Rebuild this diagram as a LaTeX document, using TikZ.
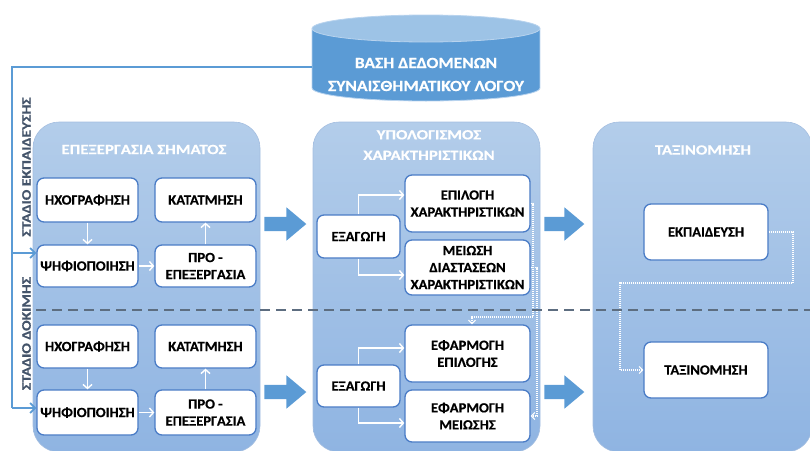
\documentclass[tikz,border=0pt]{standalone}
\usepackage{fontspec}
\setmainfont{Carlito}
\newfontfamily\boxfont{Carlito}[FakeStretch=1.04, BoldFeatures={FakeBold=0.5}]
\newfontfamily\widefont{Carlito}[FakeStretch=1.2, BoldFeatures={FakeBold=0.5}]
\newfontfamily\dbfont{Carlito}[FakeStretch=1.13, BoldFeatures={FakeBold=0.5}]
\usetikzlibrary{arrows.meta,shapes.arrows}

\definecolor{boxline}{HTML}{4A7CC6}
\definecolor{paneltop}{HTML}{B3CDEA}
\definecolor{panelbot}{HTML}{8FB4E2}
\definecolor{panelline}{HTML}{A4BEE0}
\definecolor{flowblue}{HTML}{5B9BD5}
\definecolor{dbtop}{HTML}{9DC3E6}
\definecolor{dbedge}{HTML}{B8D3EE}
\definecolor{stagetext}{HTML}{44546A}
\definecolor{splitline}{HTML}{5D6D80}

\begin{document}
\begin{tikzpicture}[x=1pt,y=-1pt,
  panel/.style={draw=panelline, line width=0.6pt, rounded corners=26pt,
    top color=paneltop, bottom color=panelbot, minimum height=330pt, inner sep=0pt},
  paneltitle/.style={text=white, font=\widefont\bfseries\fontsize{14}{20.5}\selectfont, align=center, inner sep=0pt},
  stepbox/.style={draw=boxline, line width=1.3pt, fill=white, rounded corners=7pt,
    font=\boxfont\bfseries\fontsize{14}{17}\selectfont, align=center, inner sep=0pt},
  flow/.style={white, line width=1.4pt, -{Straight Barb[length=4pt,width=9pt]}},
  dotflow/.style={white, line width=1.1pt, dash pattern=on 1pt off 1pt,
    -{Straight Barb[length=3.5pt,width=7pt]}},
  feed/.style={flowblue, line width=1.8pt},
  feedarrow/.style={feed, -{Straight Barb[length=5pt,width=10pt]}},
  bigarrow/.style={single arrow, fill=flowblue, draw=none, inner xsep=0pt, inner ysep=7pt,
    single arrow head extend=9.5pt, single arrow tip angle=80, single arrow head indent=0pt},
  stage/.style={text=stagetext, font=\widefont\bfseries\fontsize{13}{15}\selectfont, inner sep=0pt},
  split/.style={splitline, line width=1.5pt, dash pattern=on 10pt off 6pt}
]
\useasboundingbox (0,0) rectangle (810,450);

% processing stages (panels)
\node[panel, minimum width=227pt] (p1) at (146.5,287) {};
\node[panel, minimum width=227pt] (p2) at (426.5,287) {};
\node[panel, minimum width=219pt] (p3) at (702.5,287) {};
\node[paneltitle] (p1t) at (144,149.5) {ΕΠΕΞΕΡΓΑΣΙΑ ΣΗΜΑΤΟΣ};
\node[paneltitle] (p2t) at (429,145) {ΥΠΟΛΟΓΙΣΜΟΣ\\ΧΑΡΑΚΤΗΡΙΣΤΙΚΩΝ};
\node[paneltitle] (p3t) at (703,150) {ΤΑΞΙΝΟΜΗΣΗ};

% database cylinder
\fill[flowblue] (312,28.5) rectangle (540,88);
\fill[flowblue] (426,88) ellipse[x radius=114, y radius=13];
\draw[dbedge, line width=0.8pt] (312,28.5) -- (312,88)
  arc[start angle=180, end angle=0, x radius=114, y radius=13] -- (540,28.5);
\draw[dbedge, line width=0.8pt, fill=dbtop] (426,28.5) ellipse[x radius=114, y radius=13.5];
\node[text=white, font=\dbfont\bfseries\fontsize{15.5}{23}\selectfont, align=center,
  minimum width=228pt, inner sep=0pt] (db) at (426,74.5)
  {ΒΑΣΗ ΔΕΔΟΜΕΝΩΝ\\ΣΥΝΑΙΣΘΗΜΑΤΙΚΟΥ ΛΟΓΟΥ};

% signal processing
\node[stepbox, minimum width=101pt, minimum height=44pt] (h1) at (87.5,200) {ΗΧΟΓΡΑΦΗΣΗ};
\node[stepbox, minimum width=101pt, minimum height=44pt] (k1) at (205.5,200) {ΚΑΤΑΤΜΗΣΗ};
\node[stepbox, minimum width=101pt, minimum height=42pt] (d1) at (87.5,266) {ΨΗΦΙΟΠΟΙΗΣΗ};
\node[stepbox, minimum width=101pt, minimum height=42pt] (r1) at (205.5,266) {ΠΡΟ -\\ΕΠΕΞΕΡΓΑΣΙΑ};
\node[stepbox, minimum width=101pt, minimum height=43pt] (h2) at (87.5,346.5) {ΗΧΟΓΡΑΦΗΣΗ};
\node[stepbox, minimum width=101pt, minimum height=43pt] (k2) at (205.5,346.5) {ΚΑΤΑΤΜΗΣΗ};
\node[stepbox, minimum width=101pt, minimum height=45pt] (d2) at (87.5,412.5) {ΨΗΦΙΟΠΟΙΗΣΗ};
\node[stepbox, minimum width=101pt, minimum height=45pt] (r2) at (205.5,412.5) {ΠΡΟ -\\ΕΠΕΞΕΡΓΑΣΙΑ};

% feature computation
\node[stepbox, minimum width=83pt, minimum height=43pt] (e1) at (358.5,236.5) {ΕΞΑΓΩΓΗ};
\node[stepbox, minimum width=125pt, minimum height=57pt] (s1) at (467.5,203.5) {ΕΠΙΛΟΓΗ\\ΧΑΡΑΚΤΗΡΙΣΤΙΚΩΝ};
\node[stepbox, minimum width=125pt, minimum height=55pt] (m1) at (467.5,267.5) {ΜΕΙΩΣΗ\\ΔΙΑΣΤΑΣΕΩΝ\\ΧΑΡΑΚΤΗΡΙΣΤΙΚΩΝ};
\node[stepbox, minimum width=83pt, minimum height=42pt] (e2) at (358.5,386) {ΕΞΑΓΩΓΗ};
\node[stepbox, minimum width=125pt, minimum height=57pt] (s2) at (467.5,353.5) {ΕΦΑΡΜΟΓΗ\\ΕΠΙΛΟΓΗΣ};
\node[stepbox, minimum width=125pt, minimum height=52pt] (m2) at (467.5,416) {ΕΦΑΡΜΟΓΗ\\ΜΕΙΩΣΗΣ};

% classification
\node[stepbox, minimum width=124pt, minimum height=56pt] (t1) at (706,232) {ΕΚΠΑΙΔΕΥΣΗ};
\node[stepbox, minimum width=124pt, minimum height=56pt] (t2) at (706,370) {ΤΑΞΙΝΟΜΗΣΗ};

% arrows inside signal processing
\draw[flow] (h1) -- (d1);
\draw[flow] (d1) -- (r1);
\draw[flow] (r1) -- (k1);
\draw[flow] (h2) -- (d2);
\draw[flow] (d2) -- (r2);
\draw[flow] (r2) -- (k2);

% arrows inside feature computation
\draw[flow] (e1.north) |- ([yshift=8.5pt]s1.west);
\draw[flow] (e1.south) |- ([yshift=-7.5pt]m1.west);
\draw[flow] (e2.north) |- ([yshift=5.5pt]s2.west);
\draw[flow] (e2.south) |- ([yshift=-7pt]m2.west);

% trained selection and reduction reused at test time
\coordinate (c1) at (533,317);
\coordinate (c2) at (537,0);
\draw[dotflow] (s1.east) -| (c1) -| ([xshift=4.5pt]s2.north);
\draw[dotflow] (m1.east) -| (c2 |- m2.east) -- (m2.east);

% trained model used for classification
\coordinate (c3) at (793,283);
\coordinate (c4) at (620,283);
\draw[dotflow] (t1.east) -| (c3) -- (c4) |- (t2.west);

% block arrows between stages
\node[bigarrow, minimum height=42pt] (a1) at (281,224) {};
\node[bigarrow, minimum height=40pt] (a2) at (560,224) {};
\node[bigarrow, minimum height=42pt] (a3) at (281,392) {};
\node[bigarrow, minimum height=40pt] (a4) at (560,392) {};

% training / testing split
\coordinate (sl) at (36,310);
\coordinate (sr) at (810,310);
\draw[split] (sl) -- (sr);

% data feed from the database
\coordinate (ft) at (12,67);
\coordinate (fm) at (12,253);
\coordinate (fb) at (12,408);
\draw[feed] ([yshift=7.5pt]db.west) -- (ft) -- (fb);
\draw[feedarrow] (fm) -- (fm -| d1.west);
\draw[feedarrow] (fb) -- (fb -| d2.west);

% stage labels
\node[stage, rotate=90] (st1) at (26.5,167) {ΣΤΑΔΙΟ ΕΚΠΑΙΔΕΥΣΗΣ};
\node[stage, rotate=90] (st2) at (26.5,333.5) {ΣΤΑΔΙΟ ΔΟΚΙΜΗΣ};
\end{tikzpicture}
\end{document}
